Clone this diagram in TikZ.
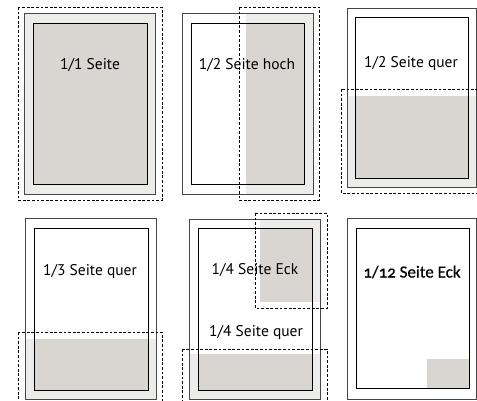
\documentclass[tikz,border=0pt]{standalone}
\usepackage{fontspec}
\setmainfont{PT Sans}
\newfontfamily\carl[Numbers=OldStyle,FakeBold=0.6]{Carlito}
\definecolor{darkfill}{RGB}{217,214,209}
\definecolor{lightfill}{RGB}{236,236,234}
\definecolor{outerline}{RGB}{70,70,70}
\tikzset{
  outerpage/.style={draw=outerline, line width=0.9pt},
  innerpage/.style={draw=black, line width=0.75pt},
  bleed/.style={draw=black, line width=0.8pt, dash pattern=on 2.8pt off 1.8pt},
  lfill/.style={fill=lightfill},
  dfill/.style={fill=darkfill},
  lbl/.style={font=\fontsize{15.5}{18}\selectfont, inner sep=0pt}
}
\begin{document}
\begin{tikzpicture}[x=1pt,y=-1pt]
\useasboundingbox (0,0) rectangle (477,401);
\fill[white] (0,0) rectangle (477,401);
% Panel 1: 1/1 Seite
\fill[lfill] (24,13) rectangle (155,194);
\fill[dfill] (33,23) rectangle (147,184);
\draw[outerpage] (24,13) rectangle (155,194);
\draw[innerpage] (33,23) rectangle (147,184);
\draw[bleed] (18,7) rectangle (162,200);
\node[lbl] (t1) at (90,65) {1/1 Seite};
% Panel 2: 1/2 Seite hoch
\fill[lfill] (246,13) rectangle (313,194);
\fill[dfill] (246,23) rectangle (304,184);
\draw[outerpage] (182,13) rectangle (313,194);
\draw[innerpage] (191,23) rectangle (304,184);
\draw[bleed] (239,7) rectangle (319,200);
\node[lbl] (t2) at (247,65) {1/2 Seite hoch};
% Panel 3: 1/2 Seite quer
\fill[lfill] (347,96) rectangle (476,187);
\fill[dfill] (355,96) rectangle (468,178);
\draw[outerpage] (347,8) rectangle (476,187);
\draw[innerpage] (355,17) rectangle (468,178);
\draw[bleed] (341,89) rectangle (485,193);
\node[lbl] (t3) at (411,64) {1/2 Seite quer};
% Panel 4: 1/3 Seite quer
\fill[lfill] (25,339) rectangle (156,399);
\fill[dfill] (34,339) rectangle (148,390);
\draw[outerpage] (25,218) rectangle (156,399);
\draw[innerpage] (34,228) rectangle (148,390);
\draw[bleed] (18,332) rectangle (162,410);
\node[lbl] (t4) at (90,272) {1/3 Seite quer};
% Panel 5: 1/4 Seite Eck / quer
\fill[lfill] (260,219) rectangle (320,302);
\fill[dfill] (260,228) rectangle (312,302);
\fill[lfill] (189,354) rectangle (320,399);
\fill[dfill] (198,354) rectangle (312,390);
\draw[outerpage] (189,219) rectangle (320,399);
\draw[innerpage] (198,228) rectangle (312,390);
\draw[bleed] (255,213) rectangle (327,308);
\draw[bleed] (182,349) rectangle (327,410);
\node[lbl] (t5) at (255,270) {1/4 Seite Eck};
\node[lbl] (t6) at (256,333) {1/4 Seite quer};
% Panel 6: 1/12 Seite Eck
\fill[dfill] (427,359) rectangle (469,388);
\draw[outerpage] (347,218) rectangle (476,399);
\draw[innerpage] (356,228) rectangle (469,388);
\node[lbl, font=\carl\fontsize{17}{20}\selectfont] (t7) at (412,272) {1/12 Seite Eck};
\end{tikzpicture}
\end{document}
